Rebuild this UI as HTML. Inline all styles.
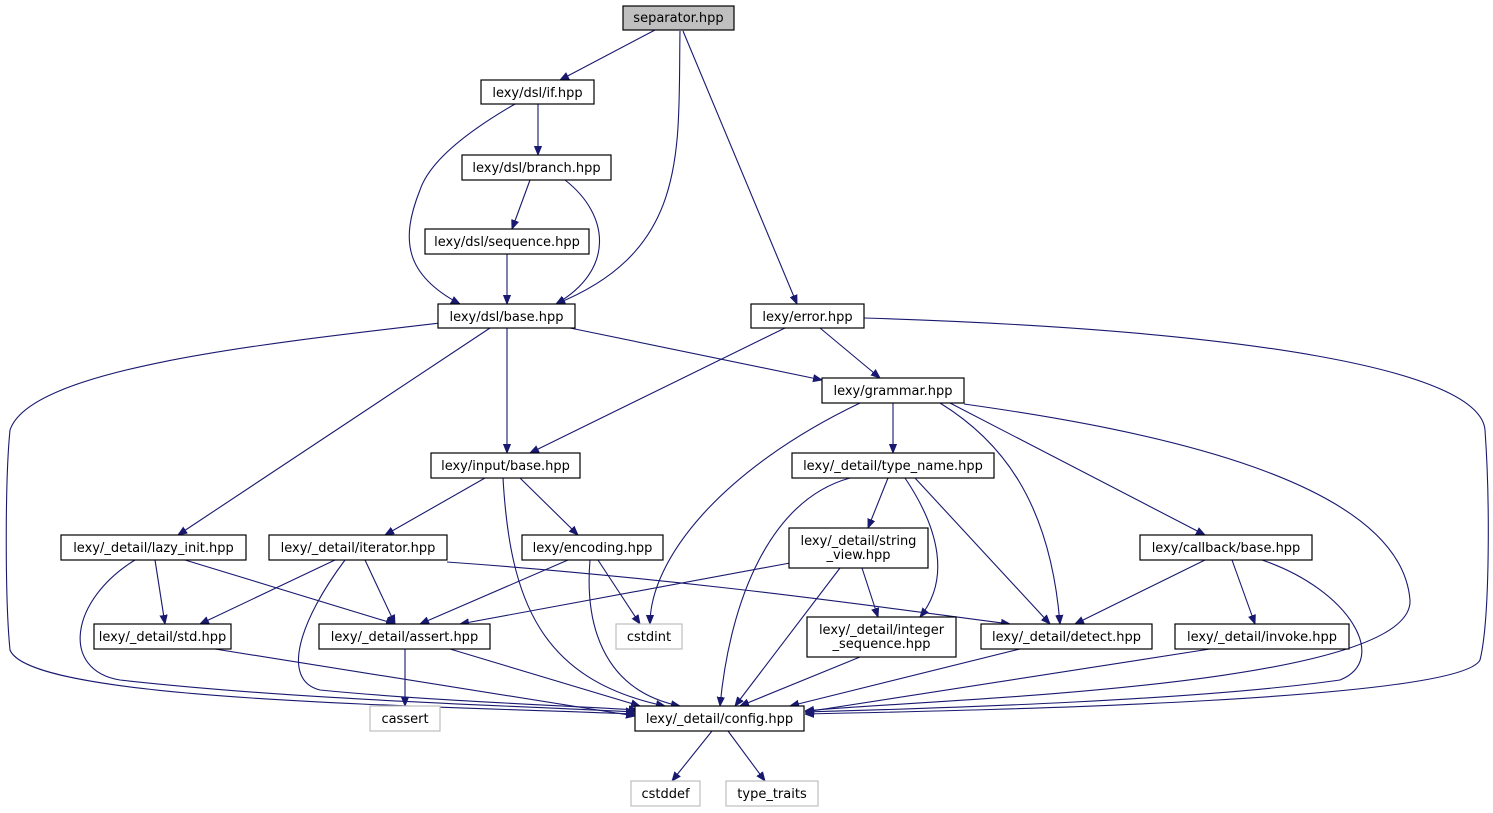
<!DOCTYPE html>
<html><head><meta charset="utf-8"><style>
html,body{margin:0;padding:0;background:#fff;}
svg{display:block;}
text{font-family:"DejaVu Sans","Liberation Sans",sans-serif;font-size:13px;fill:#000;}
</style></head><body>
<svg width="1493" height="813" viewBox="0 0 1493 813" xmlns="http://www.w3.org/2000/svg">
<defs>
<marker id="a" viewBox="0 0 10 10" refX="10" refY="5" markerWidth="9" markerHeight="9" orient="auto" markerUnits="userSpaceOnUse">
<path d="M0,1 L10,5 L0,9 z" fill="#191970" stroke="#191970"/>
</marker>
</defs>
<g fill="none" stroke="#191970" stroke-width="1.1" marker-end="url(#a)">
<path d="M655,30 L560,80"/>
<path d="M680,31 C678,150 690,250 556,304"/>
<path d="M683,31 L797,304"/>
<path d="M515,104 C470,130 430,160 420,190 C400,240 405,275 460,304"/>
<path d="M538,104 L538,155"/>
<path d="M530,180 L512,229"/>
<path d="M565,180 C610,215 615,270 556,304"/>
<path d="M507,254 L507,304"/>
<path d="M440,323 C250,345 30,370 10,430 C5,480 5,600 10,650 C30,700 400,705 635,714"/>
<path d="M490,328 L178,535"/>
<path d="M507,328 L507,453"/>
<path d="M570,328 L822,380"/>
<path d="M785,328 L530,453"/>
<path d="M820,328 L880,378"/>
<path d="M864,318 C1250,330 1480,370 1485,430 C1490,500 1490,620 1480,660 C1460,700 1000,710 805,714"/>
<path d="M860,403 C720,470 650,560 650,624"/>
<path d="M893,403 L893,453"/>
<path d="M940,403 C1000,440 1050,500 1060,624"/>
<path d="M950,403 L1205,535"/>
<path d="M964,404 C1150,430 1400,480 1410,600 C1415,690 900,700 805,711"/>
<path d="M485,478 L385,535"/>
<path d="M520,478 L578,535"/>
<path d="M503,478 C510,600 540,680 665,706"/>
<path d="M850,478 C770,500 730,600 720,706"/>
<path d="M888,478 L868,528"/>
<path d="M905,478 C940,530 950,580 920,617"/>
<path d="M915,478 L1050,624"/>
<path d="M135,560 C70,600 60,670 120,680 C300,700 500,705 635,712"/>
<path d="M155,560 L165,624"/>
<path d="M185,560 L395,624"/>
<path d="M335,560 L200,624"/>
<path d="M365,560 L395,624"/>
<path d="M345,560 C300,620 280,680 320,690 C420,700 550,705 638,710"/>
<path d="M447,562 C700,580 900,610 1010,624"/>
<path d="M568,560 L420,624"/>
<path d="M598,560 L640,624"/>
<path d="M590,560 C585,620 600,690 680,706"/>
<path d="M790,563 L460,624"/>
<path d="M862,568 L878,617"/>
<path d="M840,568 L735,706"/>
<path d="M1205,560 L1075,624"/>
<path d="M1232,560 L1255,624"/>
<path d="M1262,560 C1350,590 1390,660 1340,680 C1200,700 950,708 805,712"/>
<path d="M215,649 L635,716"/>
<path d="M405,649 L405,706"/>
<path d="M450,649 L640,706"/>
<path d="M860,657 L740,706"/>
<path d="M1020,649 L790,706"/>
<path d="M1210,649 L805,712"/>
<path d="M712,731 L672,781"/>
<path d="M728,731 L765,781"/>
</g>
<g stroke-width="1.2">
<rect x="623" y="6" width="111" height="24" fill="#bfbfbf" stroke="#000"/>
<rect x="481" y="80" width="113" height="24" fill="#fff" stroke="#000"/>
<rect x="462" y="155" width="149" height="25" fill="#fff" stroke="#000"/>
<rect x="425" y="229" width="164" height="25" fill="#fff" stroke="#000"/>
<rect x="438" y="304" width="137" height="24" fill="#fff" stroke="#000"/>
<rect x="751" y="304" width="113" height="24" fill="#fff" stroke="#000"/>
<rect x="822" y="378" width="142" height="25" fill="#fff" stroke="#000"/>
<rect x="431" y="453" width="149" height="25" fill="#fff" stroke="#000"/>
<rect x="792" y="453" width="202" height="25" fill="#fff" stroke="#000"/>
<rect x="61" y="535" width="185" height="25" fill="#fff" stroke="#000"/>
<rect x="269" y="535" width="178" height="25" fill="#fff" stroke="#000"/>
<rect x="522" y="535" width="141" height="25" fill="#fff" stroke="#000"/>
<rect x="789" y="528" width="139" height="40" fill="#fff" stroke="#000"/>
<rect x="1140" y="535" width="172" height="25" fill="#fff" stroke="#000"/>
<rect x="94" y="624" width="137" height="25" fill="#fff" stroke="#000"/>
<rect x="319" y="624" width="171" height="25" fill="#fff" stroke="#000"/>
<rect x="616" y="624" width="66" height="25" fill="#fff" stroke="#bfbfbf"/>
<rect x="807" y="617" width="149" height="40" fill="#fff" stroke="#000"/>
<rect x="981" y="624" width="171" height="25" fill="#fff" stroke="#000"/>
<rect x="1175" y="624" width="174" height="25" fill="#fff" stroke="#000"/>
<rect x="370" y="706" width="70" height="25" fill="#fff" stroke="#bfbfbf"/>
<rect x="635" y="706" width="169" height="25" fill="#fff" stroke="#000"/>
<rect x="631" y="781" width="69" height="25" fill="#fff" stroke="#bfbfbf"/>
<rect x="726" y="781" width="92" height="25" fill="#fff" stroke="#bfbfbf"/>
</g>
<g text-anchor="middle">
<text x="678.5" y="22">separator.hpp</text>
<text x="537.5" y="97">lexy/dsl/if.hpp</text>
<text x="536.5" y="172">lexy/dsl/branch.hpp</text>
<text x="507" y="246">lexy/dsl/sequence.hpp</text>
<text x="506.5" y="321">lexy/dsl/base.hpp</text>
<text x="807.5" y="321">lexy/error.hpp</text>
<text x="893" y="395">lexy/grammar.hpp</text>
<text x="505.5" y="470">lexy/input/base.hpp</text>
<text x="893" y="470">lexy/_detail/type_name.hpp</text>
<text x="153.5" y="552">lexy/_detail/lazy_init.hpp</text>
<text x="358" y="552">lexy/_detail/iterator.hpp</text>
<text x="592.5" y="552">lexy/encoding.hpp</text>
<text x="858.5" y="545">lexy/_detail/string</text>
<text x="858.5" y="559">_view.hpp</text>
<text x="1226" y="552">lexy/callback/base.hpp</text>
<text x="162.5" y="641">lexy/_detail/std.hpp</text>
<text x="404.5" y="641">lexy/_detail/assert.hpp</text>
<text x="649" y="641" fill="#555">cstdint</text>
<text x="881.5" y="634">lexy/_detail/integer</text>
<text x="881.5" y="648">_sequence.hpp</text>
<text x="1066.5" y="641">lexy/_detail/detect.hpp</text>
<text x="1262" y="641">lexy/_detail/invoke.hpp</text>
<text x="405" y="723">cassert</text>
<text x="719.5" y="723">lexy/_detail/config.hpp</text>
<text x="665.5" y="798">cstddef</text>
<text x="772" y="798">type_traits</text>
</g>
</svg>
</body></html>
